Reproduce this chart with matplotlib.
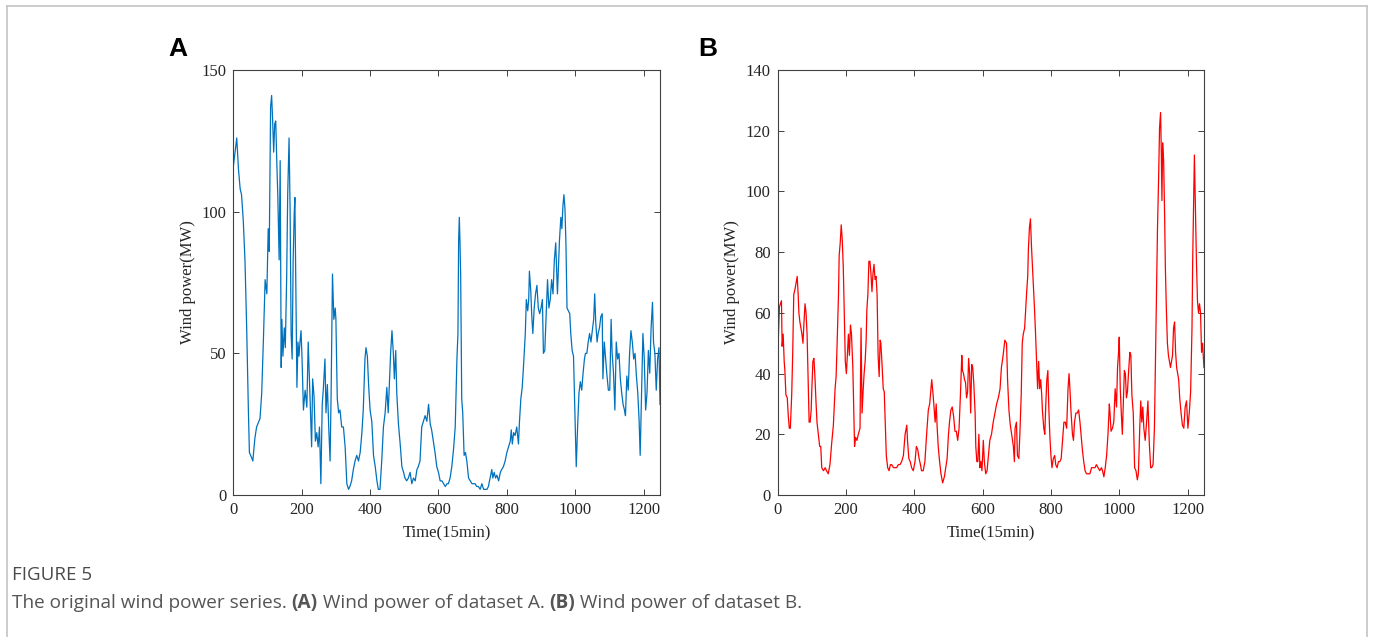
import matplotlib.pyplot as plt
from matplotlib.lines import Line2D

# dataset A (time step, MW)
time_a = [0, 10, 15, 20, 24, 29, 34, 39, 44, 47, 54, 57, 63, 68, 78, 83, 88, 93, 98, 102,
          105, 109, 112, 115, 118, 121, 124, 127, 130, 134, 137, 140, 142, 145, 149, 152, 156, 159, 163, 166,
          169, 172, 175, 178, 180, 183, 186, 189, 192, 195, 198, 201, 205, 210, 215, 219, 222, 226, 229, 232,
          236, 240, 244, 248, 252, 256, 260, 263, 268, 271, 275, 279, 283, 286, 290, 294, 298, 300, 304, 308,
          312, 317, 322, 327, 332, 337, 341, 346, 351, 356, 361, 366, 371, 376, 380, 385, 388, 392, 396, 400,
          405, 410, 415, 420, 424, 429, 434, 439, 444, 449, 453, 457, 460, 464, 468, 471, 475, 478, 483, 488,
          493, 498, 502, 507, 512, 517, 522, 527, 532, 537, 541, 546, 551, 556, 561, 566, 571, 576, 580, 585,
          590, 595, 600, 605, 610, 615, 620, 625, 629, 634, 639, 644, 649, 652, 654, 657, 659, 661, 663, 665,
          667, 668, 671, 675, 679, 683, 688, 693, 698, 703, 707, 712, 717, 722, 727, 732, 737, 742, 746, 751,
          756, 759, 763, 767, 771, 776, 781, 785, 790, 795, 800, 805, 810, 813, 816, 820, 824, 829, 834, 837,
          841, 845, 849, 854, 857, 861, 864, 866, 870, 873, 876, 880, 884, 888, 892, 896, 900, 904, 907, 911,
          915, 919, 923, 927, 931, 935, 939, 943, 945, 948, 951, 954, 958, 961, 964, 967, 970, 973, 976, 980,
          984, 987, 991, 995, 999, 1003, 1007, 1011, 1015, 1019, 1023, 1027, 1030, 1034, 1038, 1042, 1046, 1050, 1054, 1057,
          1060, 1064, 1067, 1071, 1075, 1079, 1081, 1085, 1089, 1093, 1097, 1101, 1105, 1108, 1112, 1116, 1120, 1124, 1128, 1132,
          1136, 1140, 1144, 1147, 1151, 1155, 1159, 1163, 1167, 1171, 1175, 1179, 1183, 1187, 1190, 1194, 1198, 1202, 1206, 1210,
          1214, 1218, 1222, 1226, 1229, 1233, 1237, 1241, 1245, 1248]
power_a = [116, 126, 115, 108, 106, 97, 83, 59, 30, 15, 13, 12, 20, 24, 27, 36, 55, 76, 71, 94,
           86, 137, 141, 132, 121, 131, 132, 118, 106, 83, 118, 45, 62, 49, 59, 52, 77, 106, 126, 101,
           57, 48, 83, 99, 105, 71, 38, 54, 49, 54, 58, 48, 30, 37, 31, 54, 43, 29, 17, 41,
           35, 19, 22, 17, 24, 4, 32, 37, 48, 29, 39, 24, 12, 36, 78, 62, 66, 62, 34, 29,
           30, 24, 24, 17, 4, 2, 3, 5, 9, 12, 14, 12, 15, 22, 30, 48, 52, 49, 38, 30,
           26, 14, 10, 5, 2, 2, 12, 24, 29, 38, 29, 41, 50, 58, 50, 41, 51, 36, 25, 18,
           10, 8, 6, 5, 6, 8, 4, 6, 5, 9, 10, 12, 24, 26, 28, 26, 32, 25, 23, 19,
           15, 10, 8, 5, 5, 4, 3, 4, 4, 6, 10, 16, 24, 38, 48, 57, 90, 98, 89, 77,
           48, 34, 29, 14, 15, 12, 6, 5, 4, 4, 4, 3, 3, 2, 4, 2, 2, 2, 3, 6,
           9, 6, 8, 6, 7, 5, 8, 9, 10, 12, 15, 17, 19, 23, 18, 22, 21, 24, 18, 26,
           34, 38, 46, 57, 69, 65, 69, 79, 72, 63, 57, 66, 71, 74, 66, 64, 66, 69, 50, 51,
           64, 76, 66, 69, 76, 71, 83, 89, 82, 71, 81, 90, 98, 94, 102, 106, 101, 88, 66, 65,
           64, 57, 51, 49, 30, 10, 24, 36, 40, 37, 43, 48, 50, 50, 54, 57, 54, 58, 62, 71,
           61, 54, 57, 59, 63, 64, 41, 54, 48, 42, 37, 37, 62, 50, 43, 30, 54, 48, 50, 41,
           36, 32, 30, 28, 42, 37, 50, 58, 54, 48, 50, 42, 36, 26, 14, 36, 57, 48, 30, 36,
           51, 43, 59, 68, 54, 50, 37, 48, 52, 32]

# dataset B
time_b = [0, 2, 5, 8, 11, 13, 16, 19, 21, 24, 28, 31, 34, 37, 41, 44, 47, 51, 54, 57,
          60, 62, 65, 68, 71, 74, 77, 80, 83, 86, 89, 92, 95, 98, 100, 103, 106, 109, 112, 115,
          119, 123, 126, 129, 134, 139, 143, 148, 153, 158, 163, 168, 171, 174, 178, 180, 183, 186, 189, 192,
          195, 198, 201, 204, 207, 210, 213, 216, 220, 222, 225, 228, 232, 236, 241, 244, 247, 250, 253, 256,
          259, 261, 264, 267, 270, 273, 276, 279, 282, 285, 288, 291, 294, 297, 300, 302, 305, 309, 312, 315,
          318, 322, 326, 330, 334, 339, 343, 348, 353, 358, 363, 368, 373, 378, 380, 384, 388, 392, 397, 402,
          406, 410, 414, 418, 421, 426, 431, 436, 441, 445, 448, 451, 455, 459, 461, 464, 467, 470, 474, 478,
          483, 488, 492, 496, 500, 503, 507, 511, 515, 519, 523, 527, 531, 535, 539, 541, 544, 547, 550, 553,
          556, 559, 562, 565, 568, 571, 574, 578, 580, 583, 586, 589, 592, 595, 598, 602, 605, 609, 613, 617,
          621, 626, 631, 636, 641, 646, 651, 655, 660, 665, 670, 673, 677, 681, 685, 690, 693, 695, 699, 702,
          706, 709, 713, 716, 719, 723, 726, 729, 732, 734, 737, 740, 743, 746, 749, 752, 755, 758, 761, 764,
          767, 770, 773, 775, 779, 782, 785, 788, 791, 794, 797, 800, 803, 807, 811, 814, 818, 822, 826, 830,
          834, 838, 842, 846, 850, 853, 856, 859, 863, 866, 869, 873, 877, 881, 885, 889, 892, 896, 900, 904,
          909, 914, 919, 924, 929, 933, 938, 943, 948, 951, 955, 959, 963, 967, 971, 973, 976, 980, 984, 988,
          992, 995, 998, 1000, 1003, 1006, 1009, 1012, 1015, 1018, 1021, 1024, 1027, 1031, 1034, 1037, 1041, 1045, 1049, 1053,
          1056, 1060, 1063, 1066, 1069, 1072, 1076, 1080, 1084, 1088, 1092, 1095, 1099, 1103, 1106, 1109, 1112, 1115, 1118, 1121,
          1123, 1125, 1127, 1130, 1133, 1135, 1138, 1141, 1144, 1147, 1150, 1153, 1156, 1159, 1162, 1165, 1168, 1171, 1174, 1177,
          1181, 1185, 1189, 1193, 1197, 1201, 1205, 1209, 1213, 1215, 1218, 1220, 1223, 1226, 1229, 1232, 1235, 1238, 1241, 1244,
          1248]
power_b = [40, 52, 62, 63, 64, 49, 53, 44, 41, 33, 32, 26, 22, 22, 33, 47, 66, 68, 70, 72,
           66, 60, 57, 55, 53, 50, 57, 63, 60, 53, 39, 24, 24, 28, 35, 44, 45, 39, 31, 24,
           20, 16, 16, 9, 8, 9, 8, 7, 10, 17, 23, 35, 39, 50, 66, 79, 83, 89, 84, 75,
           60, 44, 40, 46, 53, 46, 56, 53, 42, 31, 16, 19, 18, 20, 22, 55, 27, 34, 40, 44,
           51, 61, 66, 77, 77, 73, 67, 73, 76, 71, 72, 66, 46, 39, 51, 50, 44, 35, 34, 24,
           13, 9, 8, 10, 10, 9, 9, 9, 10, 10, 11, 13, 20, 23, 18, 12, 11, 9, 8, 11,
           16, 15, 12, 10, 8, 8, 11, 20, 28, 30, 34, 38, 33, 27, 24, 30, 22, 16, 11, 7,
           4, 6, 9, 12, 20, 24, 28, 29, 26, 21, 21, 18, 22, 33, 46, 41, 40, 38, 37, 32,
           34, 45, 40, 27, 43, 42, 37, 27, 16, 11, 11, 20, 9, 11, 8, 18, 11, 7, 8, 13,
           18, 20, 24, 27, 30, 32, 35, 42, 46, 51, 50, 38, 28, 23, 20, 16, 11, 22, 24, 13,
           12, 20, 33, 50, 53, 55, 61, 67, 72, 81, 88, 91, 82, 75, 68, 61, 53, 44, 35, 44,
           35, 38, 33, 28, 22, 20, 30, 38, 41, 28, 19, 13, 9, 12, 13, 10, 9, 11, 11, 12,
           18, 24, 24, 22, 35, 40, 34, 27, 20, 18, 24, 27, 27, 28, 24, 19, 15, 11, 8, 7,
           7, 7, 9, 9, 9, 10, 9, 8, 9, 8, 6, 9, 13, 20, 30, 27, 21, 22, 24, 35,
           29, 42, 47, 52, 35, 27, 20, 31, 41, 40, 32, 34, 40, 47, 46, 33, 27, 9, 8, 5,
           7, 22, 31, 24, 29, 22, 18, 24, 31, 17, 9, 9, 10, 22, 44, 66, 88, 103, 121, 126,
           114, 97, 116, 110, 91, 75, 61, 50, 46, 44, 42, 44, 46, 55, 57, 47, 42, 40, 38, 32,
           27, 23, 22, 29, 31, 22, 27, 34, 55, 77, 97, 112, 94, 77, 64, 60, 63, 60, 47, 50,
           42]

x_ticks = [0, 200, 400, 600, 800, 1000, 1200]
y_ticks_a = [0, 50, 100, 150]
y_ticks_b = [0, 20, 40, 60, 80, 100, 120, 140]

serif = 'Liberation Serif'
axis_col = '#404040'

fig = plt.figure(figsize=(13.75, 6.37), dpi=100)


def setup_axes(ax, yticks):
    ax.set_xlim(0, 1248)
    ax.set_ylim(yticks[0], yticks[-1])
    ax.set_xticks(x_ticks)
    ax.set_yticks(yticks)
    ax.tick_params(direction='in', top=True, right=True, length=4.5, width=0.7,
                   colors=axis_col, labelcolor='#262626', labelsize=12, pad=5)
    for lab in ax.get_xticklabels() + ax.get_yticklabels():
        lab.set_family(serif)
    for s in ax.spines.values():
        s.set_color(axis_col)
        s.set_linewidth(0.8)
    ax.set_xlabel('Time(15min)', family=serif, fontsize=12, color='#262626', labelpad=5)
    ax.set_ylabel('Wind power(MW)', family=serif, fontsize=12, color='#262626', labelpad=4)


ax_a = fig.add_axes([0.1697, 0.2229, 0.3103, 0.6672])
ax_a.plot(time_a, power_a, color='#0072BD', lw=0.9)
setup_axes(ax_a, y_ticks_a)

ax_b = fig.add_axes([0.5656, 0.2229, 0.31, 0.6672])
ax_b.plot(time_b, power_b, color='#FF0000', lw=0.9)
setup_axes(ax_b, y_ticks_b)

fig.text(178 / 1375, 1 - 49 / 637, 'A', family='Liberation Sans', weight='bold',
         fontsize=19, ha='center', va='center')
fig.text(708 / 1375, 1 - 49 / 637, 'B', family='Liberation Sans', weight='bold',
         fontsize=19, ha='center', va='center')

# outer frame (left, top, right)
frame_col = '#c4c4c4'
fig.add_artist(Line2D([6.5 / 1375, 6.5 / 1375], [0, 1 - 6 / 637], color=frame_col, lw=1.2))
fig.add_artist(Line2D([6.5 / 1375, 1367 / 1375], [1 - 6 / 637, 1 - 6 / 637], color=frame_col, lw=1.2))
fig.add_artist(Line2D([1367 / 1375, 1367 / 1375], [0, 1 - 6 / 637], color=frame_col, lw=1.2))

# caption
cap_font = 'Open Sans'
fig.text(12 / 1375, 1 - 575 / 637, 'FIGURE 5', family=cap_font, fontsize=13.5,
         color='#4a4a4a', va='center')

pieces = [('The original wind power series. ', 'normal'), ('(A)', 'bold'),
          (' Wind power of dataset A. ', 'normal'), ('(B)', 'bold'),
          (' Wind power of dataset B.', 'normal')]
renderer = fig.canvas.get_renderer()
x_pos = 12
for txt, w in pieces:
    t = fig.text(x_pos / 1375, 1 - 603 / 637, txt, family=cap_font, fontsize=13.7,
                 weight=w, color='#555555', va='center')
    bb = t.get_window_extent(renderer=renderer)
    x_pos += bb.width

plt.savefig('out.png', dpi=100)
